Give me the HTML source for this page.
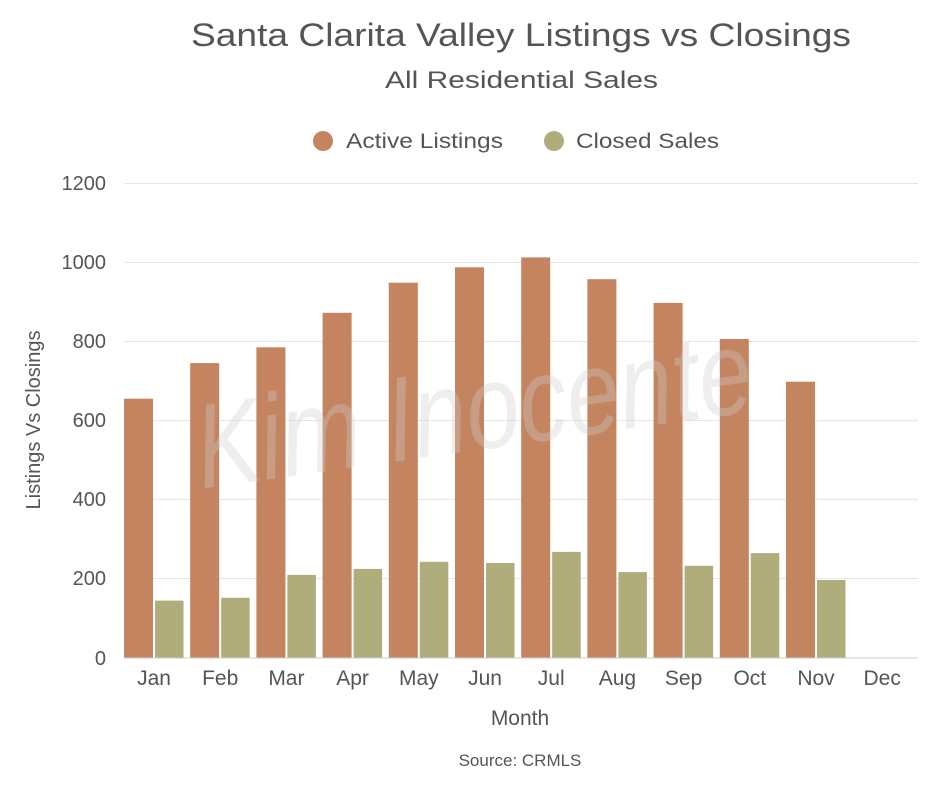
<!DOCTYPE html>
<html><head><style>
body{margin:0;background:#fff;}
svg text{font-family:"Liberation Sans",sans-serif;}
</style></head><body>
<svg width="940" height="788" xmlns="http://www.w3.org/2000/svg">
<rect width="940" height="788" fill="#fff"/>
<text x="191" y="46" textLength="660" lengthAdjust="spacingAndGlyphs" font-size="32" fill="#555">Santa Clarita Valley Listings vs Closings</text>
<text x="385" y="88" textLength="273" lengthAdjust="spacingAndGlyphs" font-size="24" fill="#555">All Residential Sales</text>
<circle cx="323" cy="141" r="10" fill="#c3845f"/>
<text x="346" y="148" textLength="157" lengthAdjust="spacingAndGlyphs" font-size="21" fill="#555">Active Listings</text>
<circle cx="554" cy="141" r="10" fill="#afad7b"/>
<text x="576" y="148" textLength="143" lengthAdjust="spacingAndGlyphs" font-size="21" fill="#555">Closed Sales</text>
<g stroke="#e6e6e6" stroke-width="1">
<line x1="124" x2="918" y1="183.5" y2="183.5"/><line x1="124" x2="918" y1="262.5" y2="262.5"/>
<line x1="124" x2="918" y1="341.5" y2="341.5"/><line x1="124" x2="918" y1="420.5" y2="420.5"/>
<line x1="124" x2="918" y1="499.5" y2="499.5"/><line x1="124" x2="918" y1="578.5" y2="578.5"/>
</g>
<g font-size="20" fill="#555" text-anchor="end">
<text x="106" y="190">1200</text><text x="106" y="269">1000</text><text x="106" y="348">800</text>
<text x="106" y="427">600</text><text x="106" y="506">400</text><text x="106" y="585">200</text><text x="106" y="665">0</text>
</g>
<text transform="translate(40,420) rotate(-90)" text-anchor="middle" font-size="20" fill="#555">Listings Vs Closings</text>
<g fill="#c3845f">
<rect x="124" y="398.7" width="29" height="259.3"/>
<rect x="190.2" y="363.1" width="29" height="294.9"/>
<rect x="256.4" y="347.3" width="29" height="310.7"/>
<rect x="322.6" y="312.8" width="29" height="345.2"/>
<rect x="388.8" y="282.7" width="29" height="375.3"/>
<rect x="455" y="267.3" width="29" height="390.7"/>
<rect x="521.2" y="257.4" width="29" height="400.6"/>
<rect x="587.4" y="279.2" width="29" height="378.8"/>
<rect x="653.6" y="302.9" width="29" height="355.1"/>
<rect x="719.8" y="339" width="29" height="319"/>
<rect x="786" y="381.7" width="29" height="276.3"/>
</g>
<g fill="#afad7b">
<rect x="155" y="600.6" width="28.5" height="57.4"/>
<rect x="221.2" y="597.8" width="28.5" height="60.2"/>
<rect x="287.4" y="574.9" width="28.5" height="83.1"/>
<rect x="353.6" y="568.9" width="28.5" height="89.1"/>
<rect x="419.8" y="561.8" width="28.5" height="96.2"/>
<rect x="486" y="563" width="28.5" height="95"/>
<rect x="552.2" y="551.9" width="28.5" height="106.1"/>
<rect x="618.4" y="572.1" width="28.5" height="85.9"/>
<rect x="684.6" y="565.8" width="28.5" height="92.2"/>
<rect x="750.8" y="553.1" width="28.5" height="104.9"/>
<rect x="817" y="580" width="28.5" height="78"/>
</g>
<line x1="124" x2="918" y1="658" y2="658" stroke="#ccc"/>
<g font-size="21" fill="#555" text-anchor="middle">
<text x="154" y="685">Jan</text><text x="220.2" y="685">Feb</text><text x="286.4" y="685">Mar</text>
<text x="352.6" y="685">Apr</text><text x="418.8" y="685">May</text><text x="485" y="685">Jun</text>
<text x="551.2" y="685">Jul</text><text x="617.4" y="685">Aug</text><text x="683.6" y="685">Sep</text>
<text x="749.8" y="685">Oct</text><text x="816" y="685">Nov</text><text x="882.2" y="685">Dec</text>
</g>
<text x="520" y="725" text-anchor="middle" font-size="21" fill="#555">Month</text>
<text x="520" y="766" text-anchor="middle" font-size="17" fill="#555">Source: CRMLS</text>
<text x="475" y="450" text-anchor="middle" font-size="120" font-style="italic" fill="#cfcfcf" fill-opacity="0.35" font-family="Liberation Serif,serif" textLength="560" lengthAdjust="spacingAndGlyphs" transform="rotate(-8 475 420)">Kim Inocente</text>
</svg>
</body></html>
